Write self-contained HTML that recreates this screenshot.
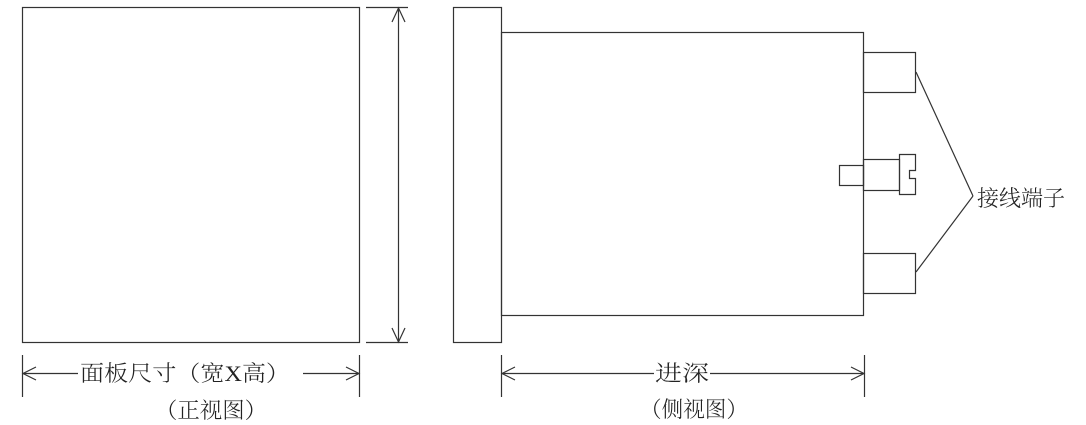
<!DOCTYPE html>
<html><head><meta charset="utf-8"><style>
html,body{margin:0;padding:0;background:#fff;width:1086px;height:425px;overflow:hidden}
svg text{font-family:"Liberation Serif","Noto Serif CJK SC",serif;font-size:22px;fill:#222;font-weight:300}
</style></head><body>
<svg width="1086" height="425" viewBox="0 0 1086 425" xmlns="http://www.w3.org/2000/svg">
<g fill="none" stroke="#333" stroke-width="1.2">
<rect x="22.5" y="7.5" width="337" height="335"/>
<line x1="366" y1="7.5" x2="408" y2="7.5"/>
<line x1="366" y1="342.5" x2="408" y2="342.5"/>
<line x1="398.5" y1="8" x2="398.5" y2="342"/>
<polyline points="392,22 398.5,8 405,22"/>
<polyline points="392,328 398.5,342 405,328"/>
<rect x="453.5" y="7.5" width="48" height="335"/>
<rect x="501.5" y="32.5" width="362" height="283"/>
<rect x="863.5" y="52.5" width="52" height="40"/>
<rect x="863.5" y="253.5" width="52" height="40"/>
<rect x="839.5" y="165.5" width="24" height="20"/>
<rect x="863.5" y="159.5" width="36" height="31"/>
<path d="M899.5 154.5 H915.5 V170.5 H909.5 V178.5 H915.5 V194.5 H899.5 Z"/>
<line x1="916" y1="72" x2="973" y2="196"/>
<line x1="916" y1="272" x2="973" y2="196"/>
<line x1="22.5" y1="355" x2="22.5" y2="397"/>
<line x1="359.5" y1="355" x2="359.5" y2="397"/>
<line x1="23" y1="373.5" x2="78" y2="373.5"/>
<line x1="303" y1="373.5" x2="359" y2="373.5"/>
<polyline points="36,367 23,373.5 36,380"/>
<polyline points="346,367 359,373.5 346,380"/>
<line x1="501.5" y1="355" x2="501.5" y2="397"/>
<line x1="864.5" y1="355" x2="864.5" y2="397"/>
<line x1="502" y1="373.5" x2="654" y2="373.5"/>
<line x1="710" y1="373.5" x2="864" y2="373.5"/>
<polyline points="515,367 502,373.5 515,380"/>
<polyline points="851,367 864,373.5 851,380"/>
</g>
<text x="977" y="206">接线端子</text>
<text x="80" y="381" textLength="210" lengthAdjust="spacingAndGlyphs">面板尺寸（宽X高）</text>
<text x="155" y="418" textLength="112" lengthAdjust="spacingAndGlyphs">（正视图）</text>
<text x="655" y="381" textLength="54" lengthAdjust="spacingAndGlyphs">进深</text>
<text x="640" y="417" textLength="108" lengthAdjust="spacingAndGlyphs">（侧视图）</text>
</svg>
</body></html>
